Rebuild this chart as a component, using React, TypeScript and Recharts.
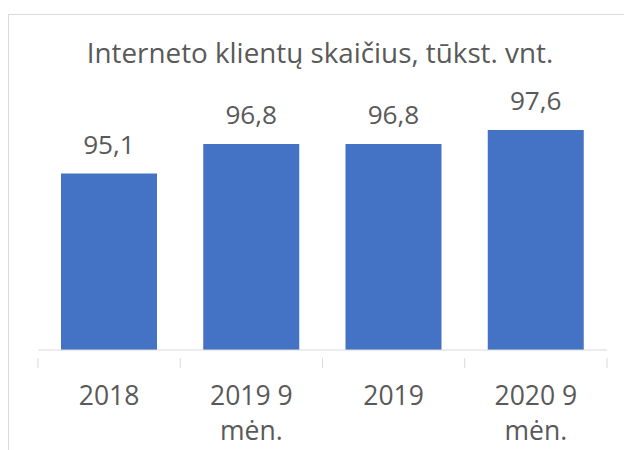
import { BarChart, Bar, XAxis, YAxis, LabelList } from "recharts";

const categories = ["2018", "2019 9\nmėn.", "2019", "2020 9\nmėn."];
const clients = [95.1, 96.8, 96.8, 97.6];
const title = "Interneto klientų skaičius, tūkst. vnt.";

const rows = categories.map((label, i) => ({ label, value: clients[i] }));

const W = 624;
const H = 450;
const margin = { top: 88, right: 17, left: 38, bottom: 0 };
const step = (W - margin.left - margin.right) / categories.length;
const font = "'Open Sans', sans-serif";
const textColor = "#595959";
const gridColor = "#d9d9d9";

function CategoryTick(props: any) {
  const { x, y, payload, index } = props;
  const lines = String(payload.value).split("\n");
  return (
    <g>
      <line x1={x - step / 2} x2={x - step / 2} y1={y} y2={y + 10} stroke={gridColor} />
      {index === categories.length - 1 && (
        <line x1={x + step / 2} x2={x + step / 2} y1={y} y2={y + 10} stroke={gridColor} />
      )}
      {lines.map((l, i) => (
        <text
          key={i}
          x={x}
          y={y + 47 + i * 35}
          textAnchor="middle"
          fill={textColor}
          fontSize={26.5}
          fontFamily={font}
        >
          {l}
        </text>
      ))}
    </g>
  );
}

export default function App() {
  return (
    <div
      style={{
        position: "absolute",
        left: 0,
        top: 0,
        width: W,
        height: H,
        overflow: "hidden",
        background: "#fff",
      }}
    >
      <div
        style={{
          position: "absolute",
          left: 8,
          top: 14,
          width: 700,
          height: 500,
          border: `1px solid ${gridColor}`,
        }}
      />
      <svg style={{ position: "absolute", left: 0, top: 0 }} width={W} height={100}>
        <text
          x={320}
          y={63}
          textAnchor="middle"
          fill={textColor}
          fontSize={27.8}
          fontFamily={font}
        >
          {title}
        </text>
      </svg>
      <div style={{ position: "absolute", left: 0, top: 0 }}>
        <BarChart width={W} height={H} data={rows} margin={margin} barCategoryGap={23}>
          <YAxis hide domain={[85, 100]} />
          <XAxis
            dataKey="label"
            height={100}
            interval={0}
            stroke={gridColor}
            tickLine={false}
            tick={<CategoryTick />}
          />
          <Bar dataKey="value" fill="#4472C4" isAnimationActive={false}>
            <LabelList
              dataKey="value"
              position="top"
              offset={20}
              fill={textColor}
              fontSize={26.2}
              fontFamily={font}
              formatter={(v: any) => Number(v).toFixed(1).replace(".", ",")}
            />
          </Bar>
        </BarChart>
      </div>
    </div>
  );
}
